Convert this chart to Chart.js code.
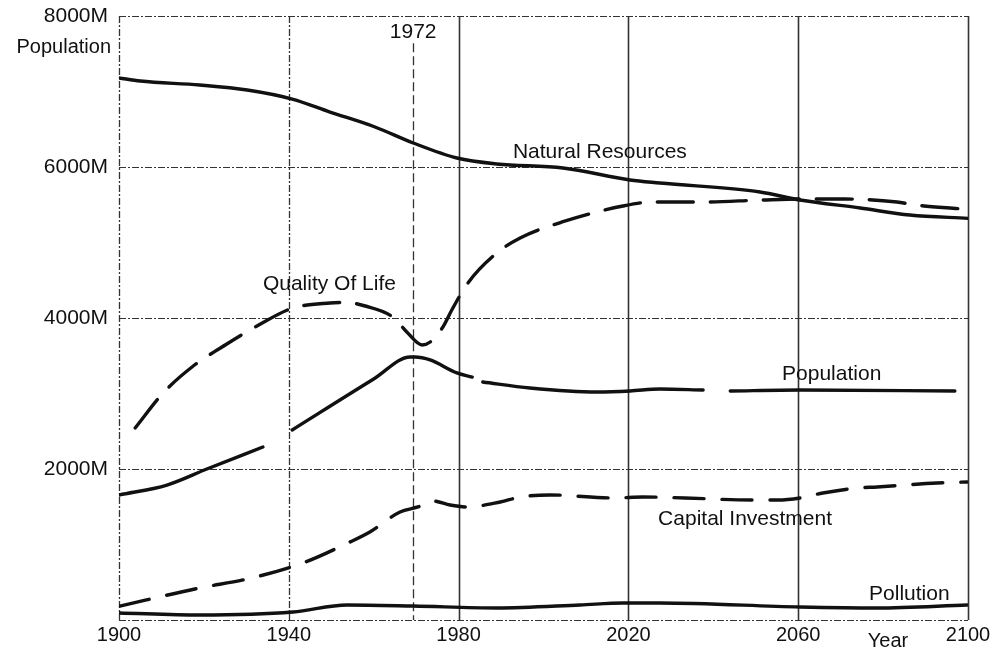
<!DOCTYPE html>
<html>
<head>
<meta charset="utf-8">
<title>World model run 1900-2100</title>
<script src="https://cdn.jsdelivr.net/npm/chart.js@4.4.1/dist/chart.umd.min.js"></script>
<style>
  html, body { margin: 0; padding: 0; background: #fff; }
</style>
</head>
<body>
<canvas id="myChart" width="990" height="651"></canvas>
<script>
'use strict';

// values (year, millions)
const resourceYears = [1900, 1905, 1919, 1930.2, 1940.8, 1949.7, 1960.3, 1969.3, 1979.6, 1989, 2004.6, 2020.4, 2027.4, 2051, 2060.4, 2074.6, 2086.3, 2100];
const resourceVals  = [7180, 7139, 7086, 7020, 6900, 6728, 6530, 6318, 6119, 6040, 5987, 5828, 5788, 5669, 5563, 5457, 5364, 5320];

const qualityYears = [1903.8, 1910.4, 1917.2, 1925.4, 1932.5, 1941, 1949.7, 1953.5, 1958, 1964.5, 1967.8, 1971.4, 1973.3, 1976.3, 1978.4, 1982.2, 1989, 1994.5, 2004.4, 2018.7, 2025.6, 2037.3, 2051.5, 2062, 2071, 2083.3, 2087.5, 2098.6];
const qualityVals  = [2543, 3007, 3351, 3656, 3894, 4132, 4199, 4205, 4159, 4013, 3815, 3642, 3682, 3881, 4106, 4464, 4861, 5060, 5272, 5483, 5536, 5536, 5563, 5576, 5576, 5536, 5497, 5444];

// null = break in the printed line
const popYears = [1900, 1911.3, 1920.7, 1933.9, 1937, 1940.8, 1960, 1968.6, 1969.7, 1973.3, 1979.6, 1983.2, 1984.5, 1985.7, 1996.8, 2012.6, 2020.4, 2027.4, 2037.6, 2040.5, 2044, 2060.4, 2096.9];
const popVals  = [1656, 1788, 2000, 2291, null, 2517, 3192, 3483, 3483, 3444, 3272, 3218, null, 3152, 3073, 3020, 3033, 3060, 3046, null, 3033, 3046, 3033];

const capitalYears = [1900.2, 1919, 1930.2, 1943.3, 1954.4, 1959.1, 1966.2, 1970.4, 1974, 1978, 1982, 1989.8, 1994.5, 2001.5, 2016.8, 2023.4, 2033.3, 2049.1, 2055.2, 2060.4, 2065.8, 2073.9, 2078.6, 2092.7, 2099.8];
const capitalVals  = [185, 424, 543, 755, 1033, 1166, 1430, 1497, 1576, 1523, 1497, 1563, 1629, 1656, 1616, 1629, 1616, 1589, 1589, 1616, 1682, 1748, 1762, 1815, 1828];

const pollutionYears = [1900, 1919, 1941, 1953.7, 1969.3, 1989, 2008.6, 2018.7, 2027.4, 2060.4, 2078.6, 2099.8];
const pollutionVals  = [93, 66, 106, 199, 185, 159, 199, 225, 225, 172, 159, 199];

const xTicks = [1900, 1940, 1980, 2020, 2060, 2100];
const yTicks = [0, 2000, 4000, 6000, 8000];
const markerYear = '1972';
const markerPos = 1969.3; // where the 1972 line sits on the printed scale

// curve labels: text, year, value
const curveLabels = [
    ['Natural Resources', 1992.8, 6200],
    ['Quality Of Life', 1933.9, 4450],
    ['Population', 2056.2, 3258],
    ['Capital Investment', 2027, 1338],
    ['Pollution', 2076.7, 344]
];

const INK = '#111';
const FONT = '"Liberation Sans", Arial, sans-serif';

const toPoints = (xs, ys) => xs.map((x, i) => ({ x: x, y: ys[i] }));

const lineSet = (label, xs, ys, dash) => ({
    label: label,
    data: toPoints(xs, ys),
    borderColor: INK,
    borderWidth: 3.4,
    borderDash: dash || [],
    borderCapStyle: 'round',
    pointRadius: 0,
    fill: false,
    spanGaps: false,
    cubicInterpolationMode: 'monotone'
});

// grid of the scanned sheet, drawn through the scales
const paperGrid = {
    id: 'paperGrid',
    beforeDatasetsDraw(chart) {
        const { ctx, chartArea: a, scales: { x, y } } = chart;
        ctx.save();
        ctx.strokeStyle = '#333';
        ctx.lineWidth = 1.2;
        ctx.setLineDash([7, 2, 2, 2]);
        yTicks.forEach(v => {
            const py = Math.round(y.getPixelForValue(v)) + 0.5;
            ctx.beginPath();
            ctx.moveTo(a.left, py);
            ctx.lineTo(a.right, py);
            ctx.stroke();
        });
        xTicks.forEach(v => {
            const px = Math.round(x.getPixelForValue(v)) + 0.5;
            ctx.setLineDash(v < 1960 ? [7, 2, 2, 2] : []);
            ctx.lineWidth = v < 1960 ? 1.3 : 1.6;
            ctx.beginPath();
            ctx.moveTo(px, a.top);
            ctx.lineTo(px, a.bottom);
            ctx.stroke();
        });
        // the 1972 marker, starts just under its label
        const mx = Math.round(x.getPixelForValue(markerPos)) + 0.5;
        ctx.setLineDash([9, 4]);
        ctx.lineWidth = 1.3;
        ctx.beginPath();
        ctx.moveTo(mx, y.getPixelForValue(7640));
        ctx.lineTo(mx, a.bottom);
        ctx.stroke();
        ctx.restore();
    },
    afterDatasetsDraw(chart) {
        const { ctx, scales: { x, y } } = chart;
        ctx.save();
        ctx.fillStyle = INK;
        ctx.font = '21px ' + FONT;
        ctx.textBaseline = 'middle';
        ctx.textAlign = 'left';
        curveLabels.forEach(([t, yr, v]) => {
            ctx.fillText(t, x.getPixelForValue(yr), y.getPixelForValue(v));
        });
        ctx.textAlign = 'center';
        ctx.fillText(markerYear, x.getPixelForValue(markerPos), y.getPixelForValue(7790));
        ctx.textAlign = 'left';
        ctx.font = '20px ' + FONT;
        ctx.fillText('Year', x.getPixelForValue(2076.4), y.getPixelForValue(-285));
        ctx.textAlign = 'right';
        ctx.font = '20px ' + FONT;
        ctx.fillText('Population', y.right - 8, y.getPixelForValue(8000) + 31);
        ctx.restore();
    }
};

const ctx = document.getElementById('myChart');
const myChart = new Chart(ctx, {
    type: 'line',
    data: {
        datasets: [
            lineSet('Natural Resources', resourceYears, resourceVals),
            lineSet('Quality Of Life', qualityYears, qualityVals, [36, 17]),
            lineSet('Population', popYears, popVals),
            lineSet('Capital Investment', capitalYears, capitalVals, [30, 18]),
            lineSet('Pollution', pollutionYears, pollutionVals)
        ]
    },
    options: {
        responsive: false,
        animation: false,
        layout: { padding: { top: 16, right: 0, left: 0, bottom: 0 } },
        plugins: {
            legend: { display: false },
            tooltip: { enabled: false }
        },
        scales: {
            x: {
                type: 'linear',
                min: 1900,
                max: 2100,
                afterBuildTicks: s => { s.ticks = xTicks.map(v => ({ value: v })); },
                afterFit: s => { s.height = 31; s.paddingRight = 22; s.paddingLeft = 0; },
                grid: { display: false, drawTicks: false },
                border: { display: false },
                ticks: {
                    color: INK,
                    font: { family: FONT, size: 20 },
                    padding: 3,
                    maxRotation: 0,
                    autoSkip: false,
                    callback: v => String(v)
                }
            },
            y: {
                min: 0,
                max: 8000,
                afterBuildTicks: s => { s.ticks = yTicks.map(v => ({ value: v })); },
                afterFit: s => { s.width = 119; s.paddingTop = 0; s.paddingBottom = 0; },
                grid: { display: false, drawTicks: false },
                border: { display: false },
                ticks: {
                    color: INK,
                    font: { family: FONT, size: 21 },
                    padding: 11,
                    callback: v => v === 0 ? '' : v + 'M'
                }
            }
        }
    },
    plugins: [paperGrid]
});
</script>
</body>
</html>
